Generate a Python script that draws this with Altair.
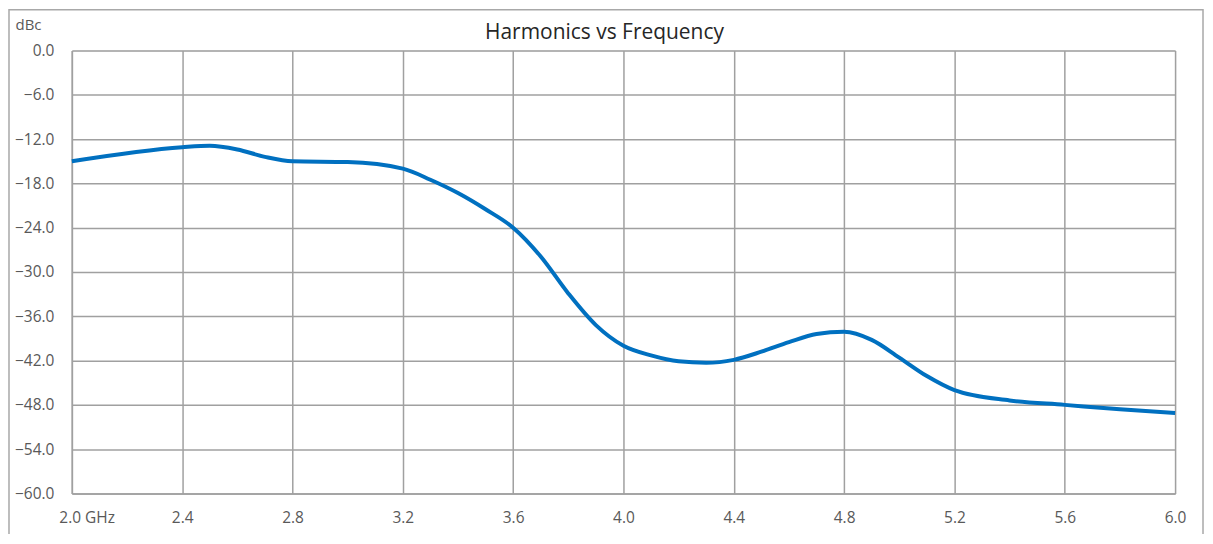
import altair as alt
import pandas as pd

freq_ghz = [2.0, 2.4, 2.5, 2.6, 2.7, 2.8, 3.0, 3.2, 3.3, 3.4, 3.5, 3.6, 3.7, 3.8, 3.9, 4.0,
            4.1, 4.2, 4.3, 4.4, 4.5, 4.6, 4.7, 4.8, 4.9, 5.0, 5.1, 5.2, 5.4, 5.6, 5.8, 6.0]
harmonics_dbc = [-15.0, -13.1, -12.9, -13.4, -14.4, -15.0, -15.1, -16.0, -17.5, -19.3, -21.5, -24.0,
                 -27.9, -32.9, -37.2, -40.0, -41.3, -42.1, -42.3, -41.9, -40.8, -39.5, -38.4,
                 -38.1, -39.2, -41.6, -44.1, -46.0, -47.4, -48.0, -48.6, -49.1]
x_ticks = [2.0, 2.4, 2.8, 3.2, 3.6, 4.0, 4.4, 4.8, 5.2, 5.6, 6.0]
y_ticks = [0, -6, -12, -18, -24, -30, -36, -42, -48, -54, -60]
title_text = "Harmonics vs Frequency"

df = pd.DataFrame({"f": freq_ghz, "v": harmonics_dbc})

GRID = "#a0a0a0"
LABEL = "#595959"
FONT = "Open Sans"

line = alt.Chart(df).mark_line(
    color="#0070C0", strokeWidth=4, interpolate="monotone"
).encode(
    x=alt.X("f:Q", scale=alt.Scale(domain=[2, 6], nice=False, zero=False),
            axis=alt.Axis(
                values=x_ticks, title=None, grid=True, gridColor=GRID, gridWidth=1.5,
                domainColor=GRID, domainWidth=1.5, ticks=False,
                labelExpr="datum.value == 2 ? '2.0 GHz' : format(datum.value, '.1f')",
                labelAlign=alt.condition("datum.value == 2", alt.value("left"), alt.value("center")),
                labelOffset=alt.condition("datum.value == 2", alt.value(-13), alt.value(0)),
                labelPadding=17, labelFontSize=15.5, labelColor=LABEL, labelFont=FONT,
            )),
    y=alt.Y("v:Q", scale=alt.Scale(domain=[-60, 0], nice=False, zero=False),
            axis=alt.Axis(
                values=y_ticks, format=".1f", grid=True, gridColor=GRID, gridWidth=1.5,
                domainColor=GRID, domainWidth=1.5, ticks=False,
                labelPadding=18, labelFontSize=15.5, labelColor=LABEL, labelFont=FONT,
                title="dBc", titleAngle=0, titleX=-57, titleY=-26, titleAlign="left",
                titleBaseline="middle", titleFontSize=15, titleFontWeight="normal",
                titleColor=LABEL, titleFont=FONT,
            )),
)

border = alt.Chart(pd.DataFrame({"a": [0]})).mark_rect(
    fill=None, stroke="#a8a8a8", strokeWidth=1.5, clip=False
).encode(
    x=alt.value(-63), x2=alt.value(1134), y=alt.value(-41), y2=alt.value(560)
)

title = alt.Chart(pd.DataFrame({"t": [title_text]})).mark_text(
    font=FONT, fontSize=21, color="#262626", align="center", baseline="alphabetic"
).encode(
    text="t:N", x=alt.value(534), y=alt.value(-12)
)

chart = alt.layer(border, line, title).properties(
    width=1106, height=444,
    padding={"left": 64, "top": 42, "right": 30, "bottom": 40},
    autosize="none",
).configure_view(stroke=GRID, strokeWidth=1.5).configure(background="white")

chart.save("out.html", embed_options={"renderer": "svg", "actions": False})
